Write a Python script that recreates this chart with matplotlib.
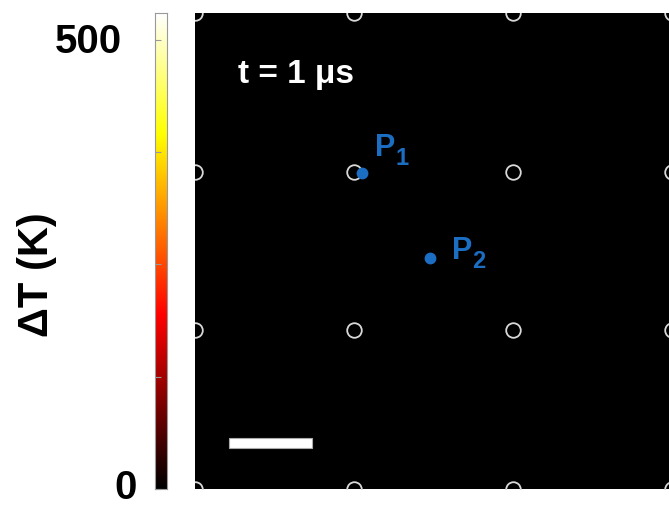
import matplotlib.pyplot as plt
import numpy as np
from matplotlib.patches import Rectangle
from matplotlib.colors import LinearSegmentedColormap

plt.rcParams['font.family'] = ['Liberation Sans', 'DejaVu Sans']
plt.rcParams['font.weight'] = 'bold'

# temperature rise field at t = 1 us (nothing heated yet)
delta_T = np.zeros((30, 30))
t_max = 530
cbar_ticks = [0, 125, 250, 375, 500]

# lattice sites (open circles), in lattice units
lattice_x = [0, 1, 2, 3]
lattice_y = [0, 1, 2, 3]

# probe points
probe_names = ['1', '2']
probe_x = [1.05, 1.478]
probe_y = [1.994, 1.459]

# scale bar, lattice units
bar_x0, bar_x1 = 0.214, 0.736
bar_y0, bar_y1 = 0.258, 0.321

blue = '#1b6ec2'
# "hot" colormap starting from pure black
hot_black = LinearSegmentedColormap.from_list(
    'hot_black', [(0, 'black'), (0.365, 'red'), (0.746, 'yellow'), (1, 'white')])

fig = plt.figure(figsize=(6.69, 5.07), dpi=100)
ax = fig.add_axes([195 / 669, 18 / 507, 474 / 669, 476 / 507])
ax.imshow(delta_T, cmap=hot_black, vmin=0, vmax=t_max, extent=[0, 3, 0, 3],
          origin='lower', aspect='auto', interpolation='nearest')
ax.set_xlim(0, 2.98)
ax.set_ylim(0, 3)

gx, gy = np.meshgrid(lattice_x, lattice_y)
ax.plot(gx.ravel(), gy.ravel(), 'o', ms=10.5, mfc='none', mec='#d9d9d9',
        mew=1.3, clip_on=True)

ax.plot(probe_x, probe_y, 'o', ms=8.5, color=blue, mec='none')
# labels P with subscript
ax.text(1.132, 2.10, 'P', color=blue, fontsize=22, fontweight='bold')
ax.text(1.258, 2.045, probe_names[0], color=blue, fontsize=17, fontweight='bold')
ax.text(1.616, 1.447, 'P', color=blue, fontsize=22, fontweight='bold')
ax.text(1.742, 1.39, probe_names[1], color=blue, fontsize=17, fontweight='bold')

ax.text(0.27, 2.56, 't = 1 μs', color='white', fontsize=24, fontweight='bold')

ax.add_patch(Rectangle((bar_x0, bar_y0), bar_x1 - bar_x0, bar_y1 - bar_y0,
                       facecolor='white', edgecolor='#aaaaaa', lw=0.8))

ax.set_xticks([])
ax.set_yticks([])
for s in ax.spines.values():
    s.set_visible(False)

# colorbar
cax = fig.add_axes([155 / 669, 18 / 507, 12 / 669, 476 / 507])
grad = np.linspace(0, t_max, 256).reshape(-1, 1)
cax.imshow(grad, cmap=hot_black, vmin=0, vmax=t_max, extent=[0, 1, 0, t_max],
           origin='lower', aspect='auto')
cax.set_xticks([])
cax.set_yticks(cbar_ticks)
cax.set_yticklabels([])
cax.tick_params(axis='y', direction='in', length=4, color='#999999', width=0.8)
for s in cax.spines.values():
    s.set_color('#999999')
    s.set_linewidth(0.8)

fig.text(122 / 669, 1 - 42 / 507, '500', fontsize=29, fontweight='bold',
         ha='right', va='center')
fig.text(137 / 669, 1 - 488 / 507, '0', fontsize=29, fontweight='bold',
         ha='right', va='center')
fig.text(37 / 669, 1 - 275 / 507, 'ΔT (K)', fontsize=30, fontweight='bold',
         rotation=90, ha='center', va='center')

fig.savefig('out.png', dpi=100)
